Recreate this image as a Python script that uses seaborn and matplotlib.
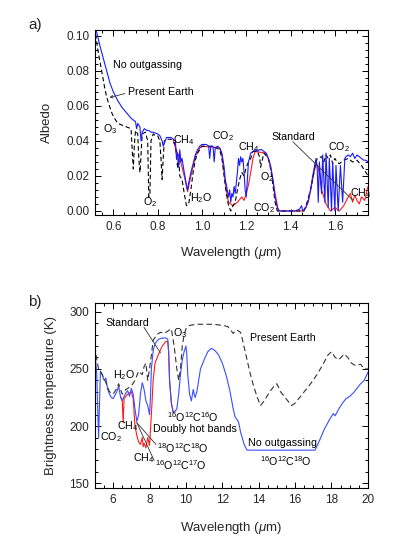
import numpy as np
import pandas as pd
import matplotlib
matplotlib.use("Agg")
import matplotlib.pyplot as plt
from matplotlib.ticker import MultipleLocator, AutoMinorLocator
import seaborn as sns

# ---------------- Panel a data (albedo) ----------------
a_blue_wl = [0.520, 0.525, 0.540, 0.555, 0.570, 0.585, 0.600, 0.620, 0.640, 0.660, 0.680, 0.700, 0.705, 0.710,
             0.720, 0.725, 0.730, 0.740, 0.750, 0.760, 0.770, 0.780, 0.800, 0.810, 0.820, 0.825, 0.840, 0.860,
             0.870, 0.880, 0.885, 0.890, 0.895, 0.900, 0.905, 0.910, 0.920, 0.930, 0.935, 0.940, 0.950, 0.960,
             0.970, 0.980, 0.990, 1.000, 1.020, 1.030, 1.035, 1.040, 1.050, 1.055, 1.060, 1.070, 1.080, 1.090,
             1.100, 1.105, 1.110, 1.120, 1.125, 1.130, 1.135, 1.140, 1.145, 1.150, 1.160, 1.165, 1.170, 1.175,
             1.180, 1.185, 1.190, 1.195, 1.200, 1.205, 1.210, 1.220, 1.230, 1.240, 1.250, 1.260, 1.270, 1.280,
             1.290, 1.300, 1.310, 1.320, 1.330, 1.340, 1.350, 1.400, 1.420, 1.440, 1.450, 1.455, 1.470, 1.480,
             1.490, 1.500, 1.510, 1.515, 1.520, 1.525, 1.530, 1.540, 1.545, 1.555, 1.560, 1.570, 1.575, 1.585,
             1.590, 1.600, 1.605, 1.615, 1.625, 1.635, 1.645, 1.650, 1.660, 1.670, 1.680, 1.690, 1.700, 1.710,
             1.720, 1.730, 1.740, 1.750]
a_blue_alb = [0.104, 0.102, 0.094, 0.087, 0.080, 0.073, 0.068, 0.063, 0.059, 0.056, 0.053, 0.051, 0.047, 0.050,
              0.048, 0.040, 0.045, 0.047, 0.046, 0.046, 0.045, 0.045, 0.044, 0.043, 0.040, 0.037, 0.042, 0.042,
              0.041, 0.040, 0.030, 0.033, 0.025, 0.035, 0.028, 0.030, 0.022, 0.015, 0.012, 0.016, 0.022, 0.027,
              0.032, 0.035, 0.037, 0.038, 0.038, 0.037, 0.030, 0.037, 0.037, 0.028, 0.036, 0.037, 0.036, 0.033,
              0.025, 0.018, 0.015, 0.008, 0.012, 0.005, 0.010, 0.008, 0.014, 0.010, 0.022, 0.030, 0.026, 0.031,
              0.028, 0.030, 0.022, 0.012, 0.008, 0.018, 0.028, 0.033, 0.034, 0.035, 0.034, 0.035, 0.035, 0.034,
              0.033, 0.030, 0.025, 0.018, 0.008, 0.002, 0.000, 0.000, 0.000, 0.001, 0.003, 0.000, 0.002, 0.006,
              0.012, 0.020, 0.027, 0.030, 0.025, 0.005, 0.028, 0.010, 0.032, 0.005, 0.033, 0.002, 0.030, 0.000,
              0.028, 0.000, 0.026, 0.000, 0.026, 0.005, 0.030, 0.031, 0.032, 0.031, 0.033, 0.030, 0.032, 0.031,
              0.030, 0.029, 0.029, 0.028]

a_black_wl = [0.520, 0.530, 0.540, 0.550, 0.560, 0.570, 0.580, 0.590, 0.600, 0.610, 0.620, 0.640, 0.660, 0.680,
              0.685, 0.690, 0.695, 0.700, 0.710, 0.715, 0.720, 0.725, 0.730, 0.745, 0.755, 0.760, 0.765, 0.770,
              0.780, 0.790, 0.800, 0.810, 0.815, 0.820, 0.825, 0.830, 0.840, 0.860, 0.880, 0.890, 0.895, 0.900,
              0.910, 0.920, 0.930, 0.940, 0.950, 0.960, 0.970, 0.980, 0.990, 1.000, 1.050, 1.080, 1.090, 1.100,
              1.110, 1.120, 1.130, 1.140, 1.150, 1.160, 1.170, 1.180, 1.190, 1.200, 1.210, 1.220, 1.230, 1.250,
              1.260, 1.265, 1.270, 1.280, 1.300, 1.310, 1.320, 1.330, 1.340, 1.460, 1.470, 1.490, 1.510, 1.520,
              1.540, 1.550, 1.560, 1.570, 1.580, 1.590, 1.600, 1.610, 1.620, 1.640, 1.660, 1.680, 1.700, 1.720,
              1.740, 1.750]
a_black_alb = [0.101, 0.092, 0.085, 0.078, 0.071, 0.065, 0.061, 0.057, 0.054, 0.052, 0.050, 0.049, 0.048, 0.047,
               0.035, 0.024, 0.038, 0.046, 0.044, 0.030, 0.022, 0.032, 0.044, 0.045, 0.040, 0.008, 0.010, 0.040,
               0.044, 0.043, 0.043, 0.040, 0.030, 0.018, 0.030, 0.040, 0.041, 0.041, 0.038, 0.025, 0.030, 0.020,
               0.018, 0.010, 0.003, 0.004, 0.012, 0.022, 0.029, 0.033, 0.035, 0.037, 0.037, 0.035, 0.030, 0.020,
               0.010, 0.003, 0.000, 0.003, 0.005, 0.012, 0.018, 0.022, 0.020, 0.025, 0.028, 0.030, 0.034, 0.034,
               0.031, 0.025, 0.028, 0.033, 0.030, 0.024, 0.015, 0.005, 0.000, 0.000, 0.003, 0.012, 0.025, 0.030,
               0.031, 0.028, 0.032, 0.030, 0.032, 0.027, 0.030, 0.028, 0.027, 0.029, 0.030, 0.028, 0.029, 0.026,
               0.022, 0.020]

a_red_wl = [0.870, 0.880, 0.890, 0.900, 0.920, 0.935, 0.950, 0.970,
            0.990, 1.000, 1.080, 1.090, 1.100, 1.110, 1.120, 1.140, 1.160, 1.180, 1.190, 1.200, 1.210, 1.220,
            1.230, 1.240, 1.290, 1.310, 1.330, 1.345, 1.460, 1.480, 1.500, 1.515, 1.530, 1.540, 1.560, 1.580,
            1.600, 1.620, 1.640, 1.660, 1.670, 1.680, 1.690, 1.700, 1.710, 1.720, 1.735, 1.745, 1.750]
a_red_alb = [0.041, 0.036, 0.033, 0.030, 0.020, 0.011, 0.020, 0.031,
             0.036, 0.037, 0.036, 0.032, 0.022, 0.012, 0.005, 0.003, 0.005, 0.008, 0.006, 0.010, 0.015, 0.022,
             0.030, 0.034, 0.033, 0.026, 0.010, 0.000, 0.000, 0.005, 0.018, 0.028, 0.022, 0.012, 0.004, 0.000,
             0.002, 0.000, 0.003, 0.008, 0.010, 0.005, 0.009, 0.006, 0.004, 0.008, 0.006, 0.012, 0.014]

# ---------------- Panel b data (brightness temperature) ----------------
b_blue_wl = [5.00, 5.05, 5.10, 5.15, 5.20, 5.25, 5.30, 5.40, 5.50, 5.60, 5.70, 5.80, 5.90, 6.00, 6.10, 6.20,
             6.30, 6.40, 6.50, 6.60, 6.70, 6.80, 6.90, 7.00, 7.10, 7.20, 7.30, 7.40, 7.50, 7.60, 7.70, 7.80,
             7.90, 8.00, 8.05, 8.10, 8.20, 8.30, 8.50, 8.70, 8.90, 9.00, 9.05, 9.10, 9.20, 9.30, 9.40, 9.50,
             9.60, 9.70, 9.80, 9.90, 10.00, 10.05, 10.10, 10.20, 10.30, 10.40, 10.50, 10.60, 10.70, 10.80,
             11.00, 11.20, 11.40, 11.60, 11.80, 12.00, 12.20, 12.40, 12.60, 12.70, 12.80, 12.90, 13.00, 13.20,
             13.35, 17.10, 17.30, 17.60, 17.90, 18.10, 18.20, 18.40, 18.60, 18.80, 19.00, 19.20, 19.40, 19.60,
             19.80, 20.00]
b_blue_tb = [262, 255, 245, 215, 190, 220, 248, 245, 240, 242, 232, 228, 225, 224, 227, 230,
             235, 226, 222, 226, 229, 231, 226, 233, 228, 215, 204, 210, 228, 238, 232, 222,
             218, 210, 225, 250, 266, 272, 276, 277, 277, 276, 265, 240, 220, 212, 213, 215,
             228, 245, 258, 265, 270, 262, 245, 228, 222, 232, 225, 230, 240, 250,
             258, 265, 268, 266, 262, 255, 245, 232, 215, 208, 206, 203, 195, 184,
             179, 179, 186, 197, 206, 211, 209, 215, 220, 224, 226, 229, 233, 237,
             240, 247]

b_red_wl = [6.40, 6.50, 6.55, 6.60, 6.80, 7.00, 7.10, 7.20,
            7.30, 7.40, 7.50, 7.60, 7.65, 7.70, 7.80, 7.90, 8.00, 8.10, 8.20, 8.30, 8.50, 8.70, 8.90, 9.00,
            9.05, 9.10, 9.20, 9.30]
b_red_tb = [226, 222, 203, 224, 228, 230, 224, 200,
            192, 186, 184, 190, 182, 185, 181, 190, 183, 210, 240, 255, 263, 270, 274, 274,
            265, 240, 220, 212]

b_black_wl = [5.00, 5.10, 5.20, 5.40, 5.60, 5.80, 6.00, 6.20, 6.30, 6.50, 6.70, 7.00, 7.20, 7.40, 7.60, 7.70,
              7.80, 7.90, 8.00, 8.10, 8.20, 8.40, 8.60, 8.80, 9.00, 9.20, 9.35, 9.50, 9.60, 9.70, 9.80, 9.90,
              10.00, 10.20, 10.60, 11.00, 11.50, 12.00, 12.30, 12.60, 12.80, 13.00, 13.10, 13.30, 13.50, 13.70,
              13.90, 14.10, 14.30, 14.60, 14.90, 15.00, 15.20, 15.50, 15.80, 16.00, 16.30, 16.60, 16.90, 17.20,
              17.50, 17.80, 18.00, 18.20, 18.40, 18.70, 18.90, 19.10, 19.30, 19.60, 19.80, 20.00]
b_black_tb = [270, 258, 250, 245, 238, 230, 228, 233, 237, 228, 232, 235, 240, 248, 245, 252,
              255, 240, 250, 262, 275, 280, 282, 281, 283, 285, 270, 250, 240, 250, 270, 280,
              285, 288, 289, 289, 289, 288, 287, 281, 284, 282, 276, 262, 248, 236,
              226, 218, 222, 230, 236, 237, 230, 224, 218, 220, 226, 232, 238, 245,
              253, 262, 265, 260, 258, 263, 260, 255, 253, 254, 250, 250]

# ---------------- style ----------------
sns.set_theme(style="ticks")
plt.rcParams["font.family"] = ["Liberation Sans", "DejaVu Sans"]
plt.rcParams["mathtext.fontset"] = "custom"
plt.rcParams["mathtext.rm"] = "Liberation Sans"
plt.rcParams["mathtext.it"] = "Liberation Sans:italic"
plt.rcParams["mathtext.bf"] = "Liberation Sans:bold"

BLUE = "#1a1aff"
RED = "#ff1a1a"
TFS = 7.7
LW = 0.8

fig = plt.figure(figsize=(3.99, 5.49), dpi=100)
ax_a = fig.add_axes([0.238, 0.6084, 0.684, 0.337])
ax_b = fig.add_axes([0.238, 0.1111, 0.684, 0.3364])


def draw(ax, wl, val, color, dashes=None):
    df = pd.DataFrame({"wl": wl, "v": val})
    sns.lineplot(data=df, x="wl", y="v", ax=ax, color=color, lw=LW,
                 estimator=None, sort=False, legend=False)
    ln = ax.lines[-1]
    if dashes is not None:
        ln.set_dashes(dashes)
    return ln


# panel a
draw(ax_a, a_red_wl, a_red_alb, RED)
draw(ax_a, a_black_wl, a_black_alb, "black", dashes=(4, 2.5))
draw(ax_a, a_blue_wl, a_blue_alb, BLUE)

# panel b
draw(ax_b, b_red_wl, b_red_tb, RED)
draw(ax_b, b_blue_wl, b_blue_tb, "#3a4dff")
draw(ax_b, b_black_wl, b_black_tb, "#333333", dashes=(5, 3))

for ax in (ax_a, ax_b):
    for s in ax.spines.values():
        s.set_linewidth(0.8)
        s.set_color("black")
    ax.tick_params(which="both", direction="in", top=True, right=True, labelsize=8.5,
                   color="black", width=0.7, pad=4)
    ax.tick_params(which="major", length=4)
    ax.tick_params(which="minor", length=2)

ax_a.set_xlim(0.517, 1.749)
ax_a.set_ylim(-0.0023, 0.1034)
ax_a.xaxis.set_minor_locator(MultipleLocator(0.05))
ax_a.yaxis.set_minor_locator(AutoMinorLocator(5))
ax_a.set_xticks([0.6, 0.8, 1.0, 1.2, 1.4, 1.6])
ax_a.set_xticklabels(["0.6", "0.8", "1.0", "1.2", "1.4", "1.6"])
ax_a.set_yticks([0.0, 0.02, 0.04, 0.06, 0.08, 0.10])
ax_a.set_yticklabels(["0.00", "0.02", "0.04", "0.06", "0.08", "0.10"])
ax_a.set_xlabel(r"Wavelength ($\mu$m)", fontsize=9.5)
ax_a.set_ylabel("Albedo", fontsize=9.5)
ax_a.xaxis.set_label_coords(0.5, -0.16)
ax_a.yaxis.set_label_coords(-0.155, 0.5)

ax_b.set_xlim(5.0, 20.0)
ax_b.set_ylim(145.9, 307.3)
ax_b.xaxis.set_minor_locator(MultipleLocator(0.5))
ax_b.yaxis.set_minor_locator(MultipleLocator(10))
ax_b.set_xticks([6, 8, 10, 12, 14, 16, 18, 20])
ax_b.set_yticks([150, 200, 250, 300])
ax_b.set_xlabel(r"Wavelength ($\mu$m)", fontsize=9.5)
ax_b.set_ylabel("Brightness temperature (K)", fontsize=9.5)
ax_b.xaxis.set_label_coords(0.5, -0.175)
ax_b.yaxis.set_label_coords(-0.14, 0.5)

# ---------------- annotations panel a ----------------
ta = dict(fontsize=TFS, ha="left", va="center", color="black")
ax_a.text(0.600, 0.0834, "No outgassing", **ta)
ax_a.text(0.667, 0.0680, "Present Earth", **ta)
ax_a.annotate("", xy=(0.570, 0.0644), xytext=(0.665, 0.0675),
              arrowprops=dict(arrowstyle="->", lw=0.6, color="#333333", mutation_scale=5))
ax_a.text(0.553, 0.0470, r"O$_3$", **ta)
ax_a.text(0.870, 0.0406, r"CH$_4$", **ta)
ax_a.text(1.045, 0.0425, r"CO$_2$", **ta)
ax_a.text(1.163, 0.0367, r"CH$_4$", **ta)
ax_a.text(1.262, 0.0196, r"O$_2$", **ta)
ax_a.text(0.734, 0.0053, r"O$_2$", **ta)
ax_a.text(0.946, 0.0073, r"H$_2$O", **ta)
ax_a.text(1.230, 0.0015, r"CO$_2$", **ta)
ax_a.text(1.316, 0.0425, "Standard", **ta)
ax_a.plot([1.41, 1.68], [0.0396, 0.0063], color="#333333", lw=0.6)
ax_a.text(1.568, 0.0367, r"CO$_2$", **ta)
ax_a.text(1.667, 0.0103, r"CH$_4$", **ta)

# ---------------- annotations panel b ----------------
ax_b.text(5.58, 289.9, "Standard", **ta)
ax_b.plot([7.69, 8.60], [286.4, 264.0], color="#333333", lw=0.6)
ax_b.text(9.28, 281.1, r"O$_3$", **ta)
ax_b.text(13.51, 276.7, "Present Earth", **ta)
ax_b.text(5.98, 244.7, r"H$_2$O", **ta)
ax_b.text(8.95, 208.2, r"$^{16}$O$^{12}$C$^{16}$O", **ta)
ax_b.text(8.18, 197.2, "Doubly hot bands", **ta)
ax_b.text(6.20, 200.1, r"CH$_4$", **ta)
ax_b.text(5.27, 190.7, r"CO$_2$", **ta)
ax_b.text(8.40, 180.6, r"$^{18}$O$^{12}$C$^{18}$O", **ta)
ax_b.text(7.10, 171.9, r"CH$_4$", **ta)
ax_b.text(8.30, 166.0, r"$^{16}$O$^{12}$C$^{17}$O", **ta)
ax_b.plot([7.30, 8.35], [203.0, 184.0], color="#333333", lw=0.6)
ax_b.plot([7.30, 8.25], [203.0, 170.0], color="#333333", lw=0.6)
ax_b.text(13.40, 185.5, "No outgassing", **ta)
ax_b.text(14.06, 169.5, r"$^{16}$O$^{12}$C$^{18}$O", **ta)

fig.text(28 / 399, 1 - 25 / 549, "a)", fontsize=11, ha="left", va="center")
fig.text(28 / 399, 1 - 301.7 / 549, "b)", fontsize=11, ha="left", va="center")

fig.savefig("out.png", dpi=100)
